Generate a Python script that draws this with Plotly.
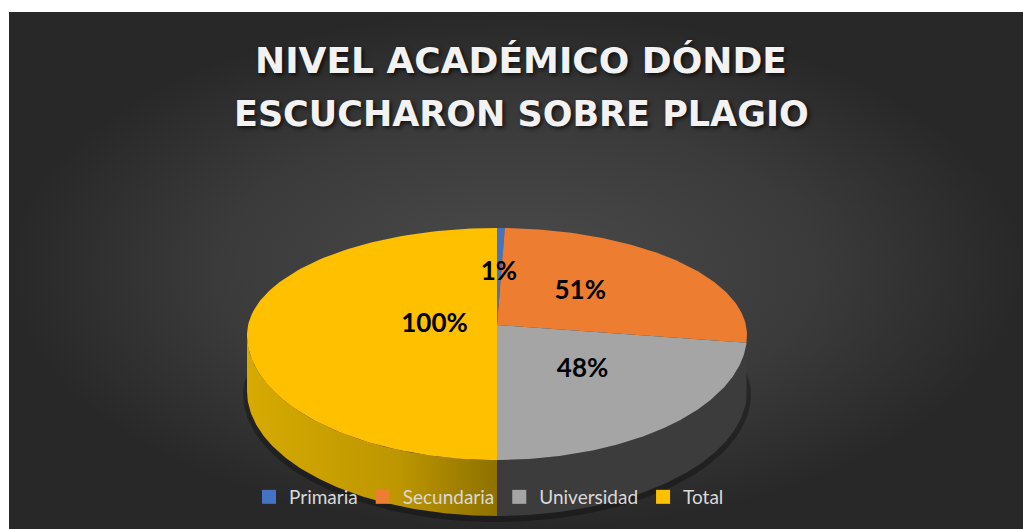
import numpy as np
import plotly.graph_objects as go

# ---- data ----
categories = ["Primaria", "Secundaria", "Universidad", "Total"]
values = [1, 51, 48, 100]
label_texts = ["1%", "51%", "48%", "100%"]
title_line1 = "NIVEL ACADÉMICO DÓNDE"
title_line2 = "ESCUCHARON SOBRE PLAGIO"

# ---- style / geometry (pixel-like axes) ----
top_colors = ["#4472C4", "#ED7D31", "#A5A5A5", "#FFC000"]
side_colors = ["#2F528F", "#B5561A", "#3C3C3C", "#B08A00"]
W, H = 1023, 529
CX, CY = 497, 335          # ellipse centre
APEX_Y = 325               # meeting point of the slices (perspective)
RX, RY_TOP, RY_BOT = 250, 107, 125
DEPTH = 56
LABEL_R = [0.48, 0.45, 0.5, 0.25]


def arc_pts(t0, t1, n=120):
    th = np.radians(np.linspace(t0, t1, n))
    x = CX + RX * np.sin(th)
    c = np.cos(th)
    y = CY - np.where(c > 0, RY_TOP, RY_BOT) * c
    return x, y


total = float(sum(values))
angles = np.concatenate([[0.0], np.cumsum(values) / total * 360.0])

fig = go.Figure()

# background panel with radial gradient
fig.add_trace(go.Scatter(
    x=[9, W, W, 9, 9], y=[12, 12, H, H, 12], mode="lines", fill="toself",
    line=dict(width=0), fillgradient=dict(type="radial",
                                          colorscale=[[0, "#4b4b4b"], [0.6, "#3a3a3a"], [1, "#282828"]]),
    hoverinfo="skip", showlegend=False))

# soft shadow under the pie
th = np.radians(np.linspace(0, 360, 240))
sx = CX + (RX + 4) * np.sin(th)
sy = CY + DEPTH + 3 - np.where(np.cos(th) > 0, RY_TOP, RY_BOT + 3) * np.cos(th)
fig.add_trace(go.Scatter(x=sx, y=sy, mode="lines", fill="toself", line=dict(width=0),
                         fillcolor="rgba(0,0,0,0.3)", hoverinfo="skip", showlegend=False))

# sides (front half only)
for i, cat in enumerate(categories):
    a, b = max(angles[i], 90.0), min(angles[i + 1], 270.0)
    if b <= a:
        continue
    x, y = arc_pts(a, b)
    px = np.concatenate([x, x[::-1], x[:1]])
    py = np.concatenate([y, (y + DEPTH)[::-1], y[:1]])
    kw = dict(fillcolor=side_colors[i])
    if cat == "Total":
        kw = dict(fillgradient=dict(type="horizontal",
                                    colorscale=[[0, "#D6AA00"], [0.6, "#BE9700"], [1, "#8E7100"]]))
    fig.add_trace(go.Scatter(x=px, y=py, mode="lines", fill="toself", line=dict(width=0),
                             hoverinfo="skip", showlegend=False, **kw))

# top faces
for i, cat in enumerate(categories):
    x, y = arc_pts(angles[i], angles[i + 1])
    px = np.concatenate([[CX], x, [CX]])
    py = np.concatenate([[APEX_Y], y, [APEX_Y]])
    fig.add_trace(go.Scatter(x=px, y=py, mode="lines", fill="toself", line=dict(width=0),
                             fillcolor=top_colors[i], name=cat, hoverinfo="name",
                             showlegend=False))

# data labels
mid = np.radians((angles[:-1] + angles[1:]) / 2)
lx = CX + np.array(LABEL_R) * RX * np.sin(mid)
c = np.cos(mid)
ly = APEX_Y - np.array(LABEL_R) * np.where(c > 0, RY_TOP, RY_BOT) * c
fig.add_trace(go.Scatter(x=lx, y=ly, mode="text", text=label_texts,
                         textfont=dict(family="Lato", size=26, color="#000000", weight="bold"),
                         hoverinfo="skip", showlegend=False))

# legend entries
for cat, col in zip(categories, top_colors):
    fig.add_trace(go.Scatter(x=[None], y=[None], mode="markers", name=cat,
                             marker=dict(symbol="square", size=14, color=col)))

title_font = dict(family="DejaVu Sans", size=36, color="#F2F2F2", weight="bold",
                  shadow="2px 2px 4px rgba(0,0,0,0.7)")

fig.update_layout(
    width=W, height=H, margin=dict(l=0, r=0, t=0, b=0),
    paper_bgcolor="white", plot_bgcolor="white",
    xaxis=dict(range=[0, W], visible=False, fixedrange=True),
    yaxis=dict(range=[H, 0], visible=False, fixedrange=True),
    title=dict(text=title_line1, x=521 / W, xanchor="center", yref="container",
               y=1 - 60 / H, yanchor="middle", font=title_font),
    annotations=[dict(text=title_line2, x=521, y=114, xref="x", yref="y",
                      xanchor="center", yanchor="middle", showarrow=False,
                      font={**title_font, "size": 35})],
    legend=dict(orientation="h", x=489 / W, xanchor="center", y=1 - 497 / H,
                yanchor="middle", bgcolor="rgba(0,0,0,0)",
                font=dict(family="Lato", size=19, color="#D9D9D9"),
                itemclick=False, itemdoubleclick=False),
    showlegend=True,
)

fig.write_html("out.html", config={"displayModeBar": False},
               post_script="document.body.style.margin='0px';"
                           "document.documentElement.style.overflow='hidden';")
